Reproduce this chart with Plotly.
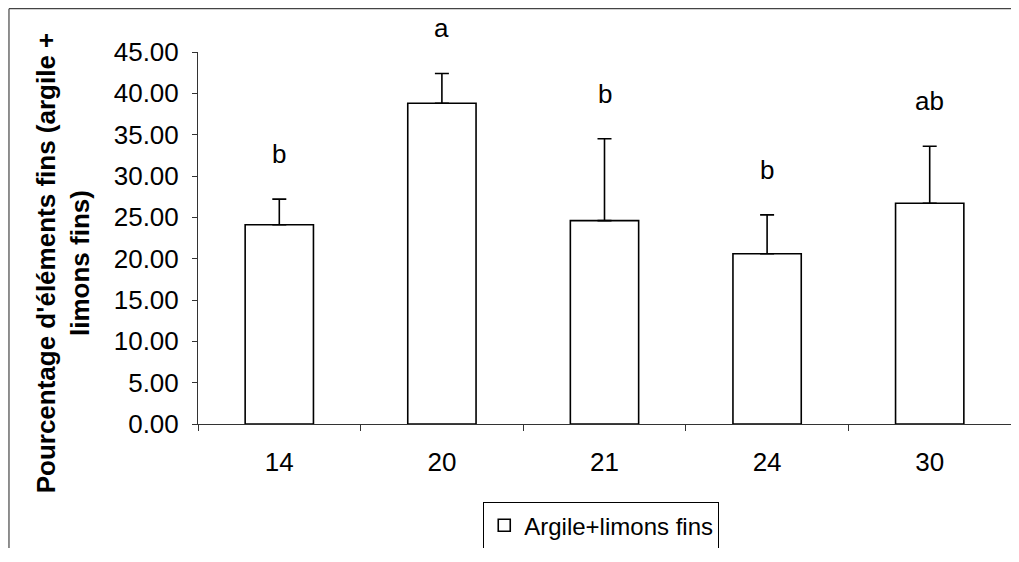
import plotly.graph_objects as go

categories = ["14", "20", "21", "24", "30"]
means = [24.1, 38.8, 24.6, 20.6, 26.7]
errors = [3.1, 3.6, 9.9, 4.7, 6.9]
letters = ["b", "a", "b", "b", "ab"]
series_name = "Argile+limons fins"
y_title = "Pourcentage d'éléments fins (argile +<br>limons fins)"

FONT = "Liberation Sans, Arial, sans-serif"

fig = go.Figure()
fig.add_trace(go.Bar(
    x=categories, y=means, name=series_name,
    width=0.42,
    marker=dict(color="white", line=dict(color="black", width=1.6)),
    error_y=dict(type="data", array=errors, symmetric=False,
                 arrayminus=[0] * len(errors),
                 color="black", thickness=1.6, width=7),
    showlegend=True,
))

for i, (m, e, l) in enumerate(zip(means, errors, letters)):
    fig.add_annotation(x=i, y=m + e, text=l, showarrow=False,
                       yanchor="middle", yshift=45,
                       font=dict(family=FONT, size=26, color="black"))

fig.add_annotation(xref="paper", yref="paper", x=-0.166, y=0.432,
                   text=y_title, textangle=-90, showarrow=False,
                   xanchor="center", yanchor="middle", align="center",
                   font=dict(family=FONT, size=26, color="black", weight="bold"))

# outer chart frame (left and top edges only; the rest lies outside the picture)
frame = dict(color="#444", width=1.2)
fig.add_shape(type="line", xref="paper", yref="paper",
              x0=-0.2325, x1=-0.2325, y0=-0.6, y1=1.1165, line=frame, layer="below")
fig.add_shape(type="line", xref="paper", yref="paper",
              x0=-0.2325, x1=1.3, y0=1.1165, y1=1.1165, line=frame, layer="below")

fig.update_layout(
    width=1003, height=540,
    margin=dict(l=190, r=0, t=44, b=124, autoexpand=False),
    paper_bgcolor="white", plot_bgcolor="white",
    font=dict(family=FONT, size=26, color="black"),
    showlegend=True,
    legend=dict(orientation="h", x=0.496, xanchor="center", y=-0.21, yanchor="top",
                bordercolor="black", borderwidth=1, bgcolor="white",
                font=dict(family=FONT, size=24, color="black"),
                itemwidth=30),
    xaxis=dict(type="category", range=[-0.5, len(categories) - 0.5],
               showline=True, linecolor="#333", linewidth=1,
               ticks="outside", ticklen=6, tickcolor="#333", tickson="boundaries",
               showgrid=False, zeroline=False, ticklabelstandoff=15, tickangle=0,
               tickfont=dict(family=FONT, size=26, color="black")),
    yaxis=dict(range=[0, 45], dtick=5, tickformat=".2f", showline=True,
               linecolor="#333", linewidth=1, ticks="outside", ticklen=5,
               tickcolor="#333", showgrid=False, zeroline=False,
               ticklabelstandoff=8,
               tickfont=dict(family=FONT, size=26, color="black")),
)

fig.write_html("out.html")
